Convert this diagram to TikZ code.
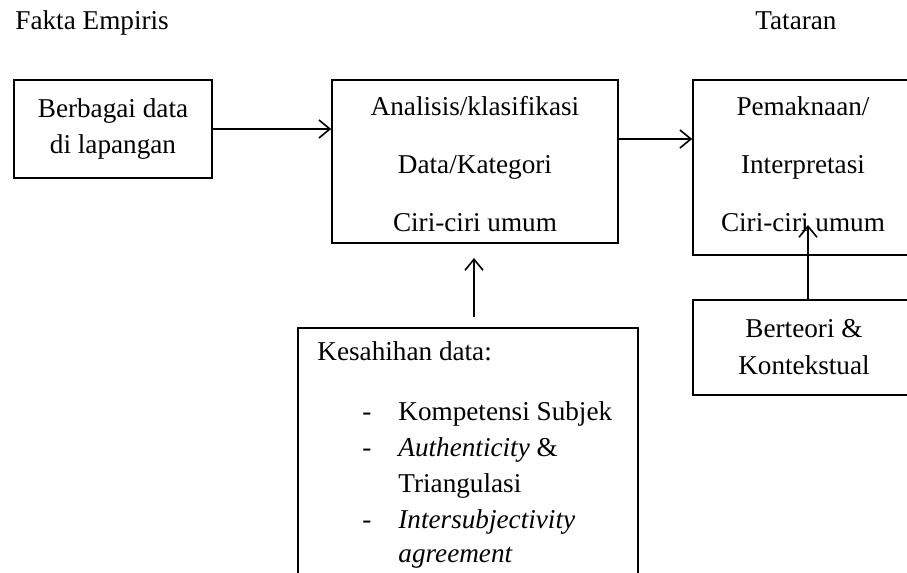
\documentclass[tikz,border=0pt]{standalone}
\usepackage{fontspec}
\setmainfont{Liberation Serif}
\usetikzlibrary{arrows.meta}
\begin{document}
\begin{tikzpicture}[x=0.5pt,y=-0.5pt,
  box/.style={draw, line width=0.8pt, inner sep=0pt, align=center},
  txt/.style={inner sep=0pt, anchor=base west},
  arr/.style={line width=0.8pt, -{Straight Barb[length=5.5pt,width=9pt,line width=0.8pt]}},
  every node/.append style={font=\fontsize{13.6}{16}\selectfont}]
\useasboundingbox (0,0) rectangle (907,573);
\clip (0,0) rectangle (907,573);
% headings
\node[txt] (h1) at (15,30) {Fakta Empiris};
\node[txt] (h2) at (755,30) {Tataran};
% boxes
\node[box, minimum width=99pt, minimum height=49pt,
  font=\fontsize{13.6}{18}\selectfont] (b1) at (113,129) {Berbagai data\\di lapangan};
\node[box, minimum width=143pt, minimum height=81.5pt] (b2) at (475,161.5) {};
\node[align=center, font=\fontsize{13.6}{29}\selectfont] (t2) at (475,164.5) {Analisis/klasifikasi\\Data/Kategori\\Ciri-ciri umum};
\node[box, minimum width=110pt, minimum height=87.5pt] (b3) at (803,167.5) {};
\node[align=center, font=\fontsize{13.6}{29}\selectfont] (t3) at (803,164.5) {Pemaknaan/\\Interpretasi\\Ciri-ciri umum};
\node[box, minimum width=111pt, minimum height=47.5pt,
  font=\fontsize{13.6}{18.5}\selectfont] (b4) at (804,347.5) {Berteori \&\\Kontekstual};
\node[box, minimum width=170pt, minimum height=146pt] (b5) at (468,474) {};
% list in b5
\node[txt] (k0) at (317,360) {Kesahihan data:};
\node[txt] (d1) at (362,420) {-};
\node[txt] (k1) at (398,420) {Kompetensi Subjek};
\node[txt] (d2) at (362,456) {-};
\node[txt] (k2) at (398,456) {\textit{Authenticity} \&};
\node[txt] (k3) at (398,492) {Triangulasi};
\node[txt] (d3) at (362,528) {-};
\node[txt] (k4) at (398,528) {\textit{Intersubjectivity}};
\node[txt] (k5) at (398,562) {\textit{agreement}};
% connectors
\draw[arr] (b1.east) -- (b1.east -| b2.west);
\coordinate (y2) at (0,139);
\draw[arr] (b2.east |- y2) -- (b3.west |- y2);
\coordinate (a3) at (808,225);
\draw[arr] (a3 |- b4.north) -- (a3);
\coordinate (a4s) at (474,317);
\coordinate (a4e) at (474,258);
\draw[arr] (a4s) -- (a4e);
\end{tikzpicture}
\end{document}
